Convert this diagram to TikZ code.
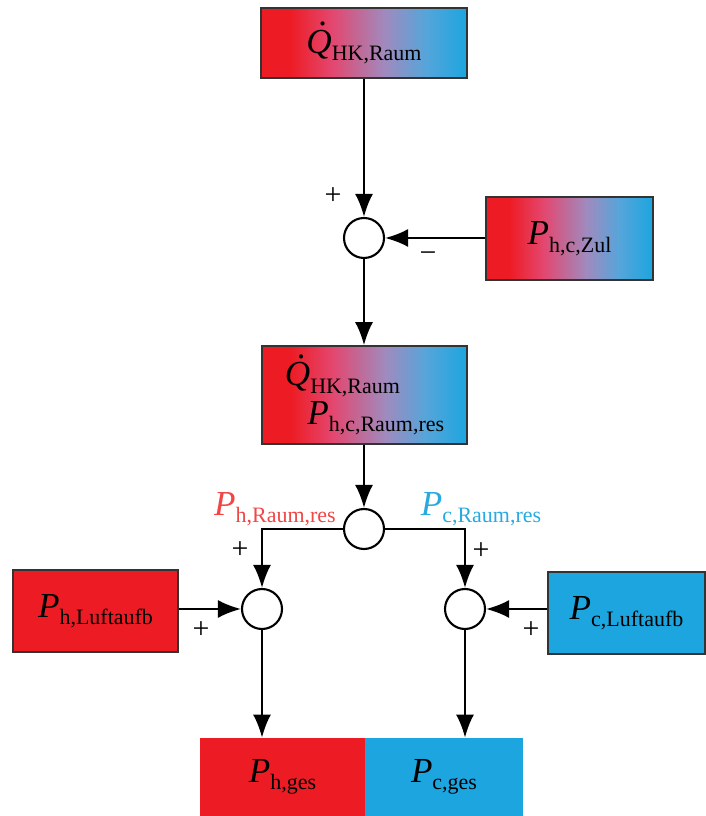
\documentclass[tikz,border=0pt]{standalone}
\usepackage{fontspec}
\setmainfont{Liberation Serif}
\usetikzlibrary{arrows.meta,positioning}

\definecolor{hotred}{RGB}{237,28,36}
\definecolor{coldblue}{RGB}{28,165,223}
\definecolor{warmpink}{RGB}{228,70,110}
\definecolor{midlila}{RGB}{160,138,190}
\definecolor{coolblue}{RGB}{85,165,218}
\definecolor{labred}{RGB}{240,70,70}
\definecolor{labblue}{RGB}{40,170,225}

% only 25bp..75bp of the shading is seen in a path
\pgfdeclarehorizontalshading{heatcool}{100bp}{%
  color(0bp)=(hotred); color(32bp)=(hotred);
  color(42bp)=(warmpink); color(55bp)=(midlila);
  color(65bp)=(coolblue); color(75bp)=(coldblue); color(100bp)=(coldblue)}

% symbol with a lowered upright index
\newcommand{\gr}[2]{{\fontsize{20}{22}\selectfont\textit{#1}}\raisebox{-0.55ex}{\fontsize{12.5}{13}\selectfont #2}}
\newcommand{\qdot}{\makebox[0pt][l]{\hspace{0.36em}\raisebox{0.78em}{.}}Q}

\tikzset{
  gradbox/.style={draw=black!80, line width=0.9pt, shading=heatcool, inner sep=0pt},
  redbox/.style={draw=black!80, line width=0.9pt, fill=hotred, inner sep=0pt},
  bluebox/.style={draw=black!80, line width=0.9pt, fill=coldblue, inner sep=0pt},
  sumnode/.style={circle, draw, line width=1.2pt, fill=white,
    minimum size=0.8cm, inner sep=0pt},
  flow/.style={-{Latex[length=0.46cm,width=0.36cm]}, line width=1.3pt},
  sign/.style={font=\fontsize{17}{17}\selectfont, inner sep=0pt}
}

\begin{document}
\begin{tikzpicture}[font=\fontsize{17}{21}\selectfont]
  \useasboundingbox (0,0) rectangle (14.1,16.32);

  % blocks
  \node[gradbox, minimum width=4.12cm, minimum height=1.4cm] (qhk) at (7.28,15.46) {\gr{\qdot}{HK,Raum}};
  \node[gradbox, minimum width=3.34cm, minimum height=1.66cm] (zul) at (11.39,11.55) {\gr{P}{h,c,Zul}};
  \node[gradbox, minimum width=4.1cm, minimum height=1.96cm, align=left] (res) at (7.29,8.42)
    {\gr{\qdot}{HK,Raum}\\[1pt]\hspace*{0.45cm}\gr{P}{h,c,Raum,res}};
  \node[redbox, minimum width=3.3cm, minimum height=1.64cm] (hluft) at (1.91,4.10) {\gr{P}{h,Luftaufb}};
  \node[bluebox, minimum width=3.14cm, minimum height=1.64cm] (cluft) at (12.53,4.06) {\gr{P}{c,Luftaufb}};
  \node[fill=hotred, minimum width=3.3cm, minimum height=1.56cm, inner sep=0pt] (hges) at (5.65,0.78) {\gr{P}{h,ges}};
  \node[fill=coldblue, minimum width=3.16cm, minimum height=1.56cm, inner sep=0pt] (cges) at (8.88,0.78) {\gr{P}{c,ges}};

  % summing points
  \node[sumnode] (s1) at (7.28,11.56) {};
  \node[sumnode] (s2) at (7.28,5.74) {};
  \node[sumnode] (s3) at (5.24,4.14) {};
  \node[sumnode] (s4) at (9.30,4.14) {};

  % signal lines
  \draw[flow] (qhk.south -| s1) -- (s1.north);
  \draw[flow] (zul.west |- s1) -- (s1.east);
  \draw[flow] (s1.south) -- (res.north -| s1);
  \draw[flow] (res.south -| s2) -- (s2.north);
  \draw[flow] (s2.west) -| (s3.north);
  \draw[flow] (s2.east) -| (s4.north);
  \draw[flow] (hluft.east |- s3) -- (s3.west);
  \draw[flow] (cluft.west |- s4) -- (s4.east);
  \draw[flow] (s3.south) -- (s3.south |- hges.north);
  \draw[flow] (s4.south) -- (s4.south |- cges.north);

  % signs and flow labels
  \node[sign] (p1) at (6.66,12.40) {+};
  \node[sign] (m1) at (8.56,11.18) {−};
  \node[sign] (p2) at (4.80,5.32) {+};
  \node[sign] (p3) at (9.62,5.30) {+};
  \node[sign] (p4) at (4.02,3.72) {+};
  \node[sign] (p5) at (10.62,3.72) {+};
  \node[text=labred] (lh) at (5.50,6.14) {\gr{P}{h,Raum,res}};
  \node[text=labblue] (lc) at (9.62,6.14) {\gr{P}{c,Raum,res}};
\end{tikzpicture}
\end{document}
